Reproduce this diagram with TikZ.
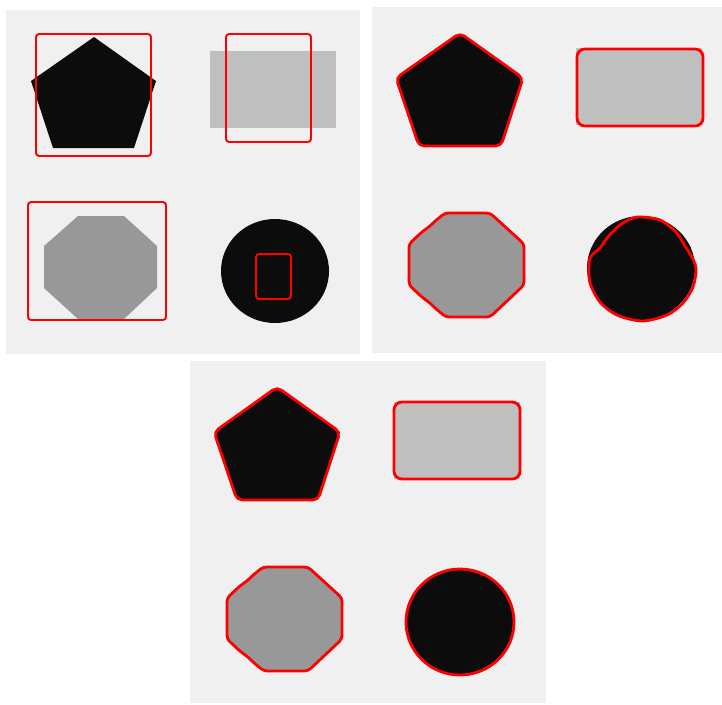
\documentclass[tikz,border=0pt]{standalone}
\definecolor{panelbg}{RGB}{240,240,240}
\definecolor{lightshape}{RGB}{191,191,191}
\definecolor{midshape}{RGB}{152,152,152}
\definecolor{darkshape}{RGB}{12,12,12}
\tikzset{
  panel/.style={fill=panelbg},
  bbox/.style={draw=red, line width=1.1pt, rounded corners=1.8pt},
  contour/.style={draw=red, line width=1.6pt, line join=round},
}
\begin{document}
\begin{tikzpicture}[x=0.02cm, y=-0.02cm]
    \useasboundingbox (0,0) rectangle (722,704);
    % Three panels with the same four shapes
    \foreach \ox/\oy/\w/\h in {6/10/354/344, 372/7/350/346, 190/361/356/342}{
      \begin{scope}[shift={(\ox,\oy)}]
        \fill[panel] (0,0) rectangle (\w,\h);
        \fill[darkshape] (88,27) -- (150,71) -- (128,138) -- (47,138) -- (25,71) -- cycle;
        \fill[lightshape] (204,41) rectangle (330,118);
        \fill[midshape] (72,206) -- (118,206) -- (151,236) -- (151,278) -- (118,309)
          -- (72,309) -- (38,278) -- (38,236) -- cycle;
        \fill[darkshape] (269,261) ellipse [x radius=54, y radius=52];
      \end{scope}
    }
    % Panel 1: initial boxes
    \begin{scope}[shift={(6,10)}]
      \draw[bbox] (30,24) rectangle (145,146);
      \draw[bbox] (220,24) rectangle (305,132);
      \draw[bbox] (22,192) rectangle (160,310);
      \draw[bbox] (250,244) rectangle (285,289);
    \end{scope}
    % Panel 2: contours after some iterations
    \begin{scope}[shift={(372,7)}]
      \draw[contour, rounded corners=3pt] (88,26) -- (151,71) -- (129,139) -- (47,139) -- (24,71) -- cycle;
      \draw[contour, rounded corners=4.5pt] (205,42) rectangle (331,119);
      \draw[contour, rounded corners=2pt] (73,206) -- (118,206) -- (152,237) -- (152,278) -- (118,310)
        -- (74,310) -- (64,302) -- (58,296) -- (51,291) -- (37,278) -- (37,237) -- (51,224)
        -- (57,220) -- (62,215) -- cycle;
      \draw[contour] plot[smooth cycle] coordinates {(270,210) (288,213) (304,225) (313,239)
        (321,252) (324,263) (321,280) (311,296) (295,308) (270,314) (245,308) (228,295)
        (218,276) (217,256) (220,248) (228,241) (236,230) (248,218) (261,211)};
    \end{scope}
    % Panel 3: final contours
    \begin{scope}[shift={(190,361)}]
      \draw[contour, rounded corners=3pt] (87,26) -- (150,71) -- (128,139) -- (47,139) -- (24,71) -- cycle;
      \draw[contour, rounded corners=4.5pt] (204,41) rectangle (330,118);
      \draw[contour, rounded corners=2pt] (73,206) -- (118,206) -- (152,237) -- (152,278) -- (118,310)
        -- (74,310) -- (64,302) -- (58,296) -- (51,291) -- (37,278) -- (37,237) -- (51,224)
        -- (57,220) -- (62,215) -- cycle;
      \draw[contour] (270,261) ellipse [x radius=54, y radius=53];
    \end{scope}
\end{tikzpicture}
\end{document}
